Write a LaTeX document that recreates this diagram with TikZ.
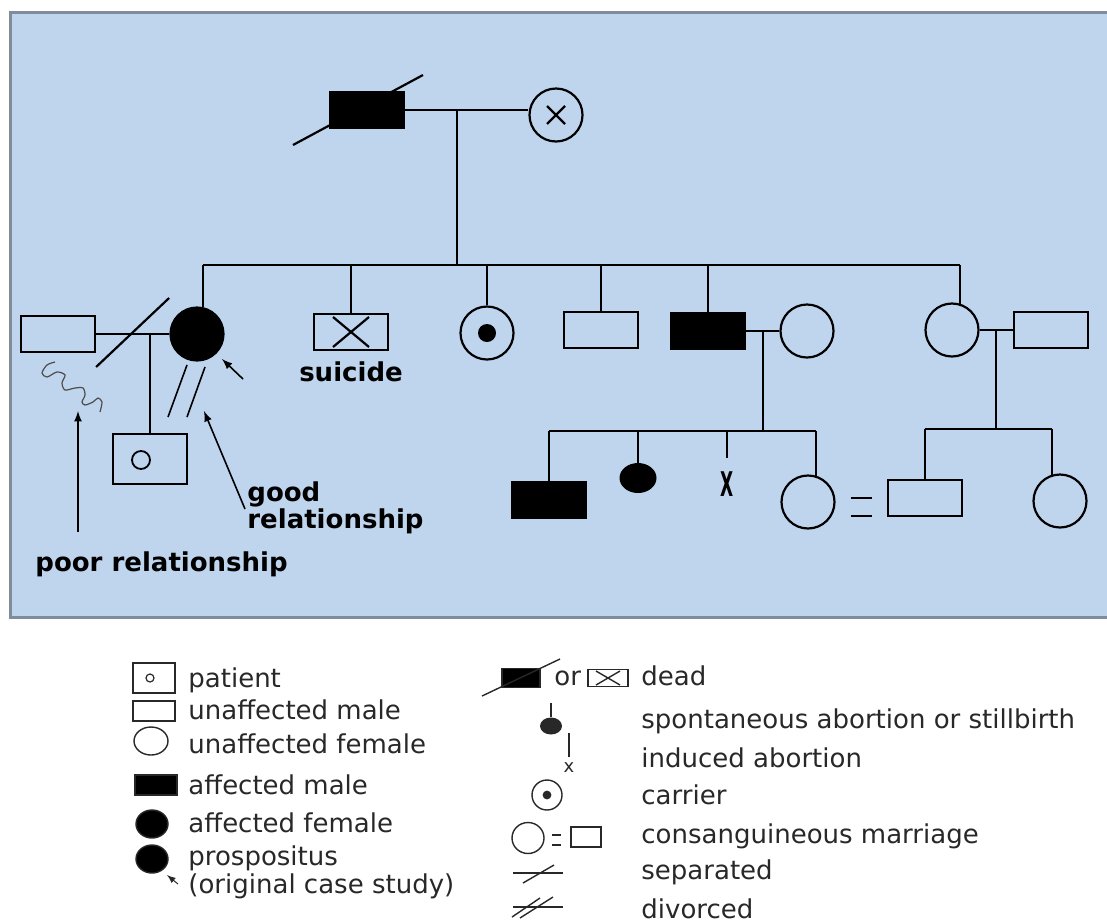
\documentclass[tikz,border=0pt]{standalone}
\usepackage{fontspec}
\setmainfont{DejaVu Sans}
\usetikzlibrary{calc,shapes.geometric}
\definecolor{sfondo}{RGB}{191,213,238}
\definecolor{bordo}{RGB}{128,140,156}
\definecolor{legenda}{RGB}{40,40,40}

\begin{document}
\begin{tikzpicture}[x=0.5pt,y=-0.5pt,
    linea/.style={line width=1.1pt},
    maschio/.style={draw, rectangle, line width=1.1pt, minimum width=37pt, minimum height=18pt, inner sep=0pt},
    femmina/.style={draw, circle, line width=1.1pt, minimum size=26.5pt, inner sep=0pt},
    affetto/.style={fill=black},
    etichetta/.style={font=\fontsize{13}{13.5}\selectfont\bfseries, inner sep=0pt},
    voce/.style={font=\fontsize{13}{14}\selectfont, text=legenda, anchor=base west, inner sep=0pt},
    lmaschio/.style={draw=legenda, rectangle, line width=0.7pt, minimum width=21pt, minimum height=10pt, inner sep=0pt},
    lfemmina/.style={draw=legenda, ellipse, line width=0.7pt, minimum width=17pt, minimum height=14pt, inner sep=0pt},
    lsegno/.style={draw=legenda, line width=0.7pt},
    freccia/.style={->, >=latex, line width=0.8pt}
  ]

    % Sfondo
    \useasboundingbox (0,0) rectangle (1107,922);
    \fill[white] (0,0) rectangle (1107,922);
    \draw[bordo, fill=sfondo, line width=1.5pt] (10,12) rectangle (1120,617);

    % Prima generazione
    \node[maschio, affetto] (nonno) at (367,110) {};
    \node[femmina] (nonna) at (556,115) {};
    \draw[linea] (nonno.east) -- (nonno.east -| nonna.west);
    \draw[linea] ($(nonno)+(-74,35)$) -- ($(nonno)+(56,-35)$);
    \draw[linea] ($(nonna)+(-9,-9)$) -- ($(nonna)+(9,9)$);
    \draw[linea] ($(nonna)+(-9,9)$) -- ($(nonna)+(9,-9)$);
    \coordinate (m1) at (457,110);
    \coordinate (fratelli) at (457,265);
    \draw[linea] (m1) -- (fratelli);

    % Seconda generazione
    \node[femmina, affetto] (zia) at (197,334) {};
    \node[maschio] (ex) at (58,334) {};
    \node[maschio] (suicida) at (351,332) {};
    \node[femmina] (portatrice) at (487,333) {};
    \node[maschio] (zio) at (601,330) {};
    \node[maschio, affetto] (padre) at (708,331) {};
    \node[femmina] (moglie) at (807,331) {};
    \node[femmina] (zia2) at (952,330) {};
    \node[maschio] (marito2) at (1051,330) {};
    \draw[linea] (zia.77 |- fratelli) -- (zia2.73 |- fratelli);
    \foreach \n/\a in {zia/77,suicida/north,portatrice/north,zio/north,padre/north,zia2/73}
      \draw[linea] (\n.\a |- fratelli) -- (\n.\a);
    \draw[linea] ($(suicida)+(-18,-15)$) -- ($(suicida)+(18,15)$);
    \draw[linea] ($(suicida)+(18,-15)$) -- ($(suicida)+(-18,15)$);
    \fill (portatrice) circle (4.5pt);

    % Coppia separata e paziente
    \draw[linea] (ex.east) -- (zia.west);
    \draw[linea] ($(ex.east)+(0,33)$) -- ($(ex.east)+(73,-36)$);
    \node[maschio, minimum height=25pt] (paziente) at (150,459) {};
    \node[draw, circle, line width=0.9pt, minimum size=9pt, inner sep=0pt] at ($(paziente)+(-9,1)$) {};
    \coordinate (m2) at (150,334);
    \draw[linea] (m2) -- (paziente.north);

    % Rapporti
    \draw[line width=0.8pt] ($(zia)+(-10,31)$) -- ($(zia)+(-29,83)$);
    \draw[line width=0.8pt] ($(zia)+(8,33)$) -- ($(zia)+(-10,83)$);
    \draw[black!70, line width=0.6pt] plot[smooth] coordinates {(55,362) (47,365) (42,373) (47,377) (57,372) (65,375) (62,383) (65,390) (75,388) (83,388) (85,395) (82,402) (85,405) (93,402) (98,398) (102,402) (100,412)};
    \node[etichetta, anchor=base west] (poor) at (35,571) {poor relationship};
    \node[etichetta, anchor=north west, align=left] (good) at (247,481) {good\\relationship};
    \node[etichetta, anchor=base] (lsuicide) at (351,381) {suicide};
    \coordinate (c-poor) at (78,532);
    \coordinate (p-poor) at (78,411);
    \draw[freccia] (c-poor) -- (p-poor);
    \coordinate (c-good) at (245,509);
    \coordinate (p-good) at (204,411);
    \draw[freccia] (c-good) -- (p-good);
    \coordinate (c-prob) at (243,379);
    \coordinate (p-prob) at (222,359);
    \draw[freccia] (c-prob) -- (p-prob);

    % Terza generazione (famiglia del padre)
    \draw[linea] (padre.east) -- (moglie.west);
    \coordinate (m3) at ($(padre.east)!0.5!(moglie.west)$);
    \coordinate (fratelli2) at (763,431);
    \draw[linea] (m3) -- (m3 |- fratelli2);
    \node[maschio, affetto] (figlio) at (549,500) {};
    \node[ellipse, affetto, minimum width=18.5pt, minimum height=15pt, inner sep=0pt] (aborto) at (638,478) {};
    \coordinate (indotto) at (727,458);
    \node[font=\fontsize{17}{17}\selectfont\bfseries, inner sep=0pt] (xindotto) at (727,484) {\scalebox{0.5}[1]{X}};
    \node[femmina] (figlia) at (808,502) {};
    \draw[linea] (figlio.north |- fratelli2) -- (figlia.73 |- fratelli2);
    \foreach \n/\a in {figlio/north,aborto/north,figlia/73}
      \draw[linea] (\n.\a |- fratelli2) -- (\n.\a);
    \draw[linea] (indotto |- fratelli2) -- (indotto);

    % Terza generazione (famiglia della zia)
    \draw[linea] (zia2.east) -- (marito2.west);
    \coordinate (m4) at ($(zia2.east)!0.5!(marito2.west)$);
    \coordinate (fratelli3) at (997,429);
    \draw[linea] (m4) -- (m4 |- fratelli3);
    \node[maschio] (cugino) at (925,498) {};
    \node[femmina] (cugina) at (1060,501) {};
    \draw[linea] (cugino.north |- fratelli3) -- (cugina.107 |- fratelli3);
    \foreach \n/\a in {cugino/north,cugina/107}
      \draw[linea] (\n.\a |- fratelli3) -- (\n.\a);

    % Matrimonio tra consanguinei
    \draw[linea] ($(figlia.east)+(15,-4)$) -- ++(21,0);
    \draw[linea] ($(figlia.east)+(15,14)$) -- ++(21,0);

    % Legenda, colonna sinistra
    \node[lmaschio, minimum height=15pt] (l-paziente) at (154,678) {};
    \node[draw=legenda, circle, line width=0.6pt, minimum size=4pt, inner sep=0pt] at ($(l-paziente)+(-4,0)$) {};
    \node[lmaschio] (l-sano) at (154,711) {};
    \node[lfemmina] (l-sana) at (151,741) {};
    \node[lmaschio, affetto] (l-affetto) at (156,785) {};
    \node[lfemmina, affetto, minimum width=16pt] (l-affetta) at (152,824) {};
    \node[lfemmina, affetto, minimum width=16pt] (l-probando) at (152,859) {};
    \coordinate (c-lprob) at (178,884);
    \coordinate (p-lprob) at (167,875);
    \draw[->, >=latex, line width=0.5pt, legenda] (c-lprob) -- (p-lprob);
    \node[voce] at (188,687) {patient};
    \node[voce] at (188,719) {unaffected male};
    \node[voce] at (188,753) {unaffected female};
    \node[voce] at (188,794) {affected male};
    \node[voce] at (188,832) {affected female};
    \node[voce] at (188,865) {prospositus};
    \node[voce] at (188,893) {(original case study)};

    % Legenda, colonna destra
    \node[lmaschio, affetto, minimum width=19pt, minimum height=9.5pt] (l-morto) at (521,678) {};
    \draw[lsegno] ($(l-morto)+(-39,18)$) -- ($(l-morto)+(39,-19)$);
    \node[voce] at (554,685) {or};
    \node[lmaschio, minimum width=20pt, minimum height=8.5pt] (l-suicida) at (608,678) {};
    \draw[lsegno] ($(l-suicida)+(-12,-7)$) -- ($(l-suicida)+(12,7)$);
    \draw[lsegno] ($(l-suicida)+(12,-7)$) -- ($(l-suicida)+(-12,7)$);
    \node[voce] at (641,685) {dead};

    \node[ellipse, fill=legenda, minimum width=11pt, minimum height=8.5pt, inner sep=0pt] (l-aborto) at (551,726) {};
    \draw[lsegno] (l-aborto.north) -- ++(0,-14);
    \node[voce] at (641,728) {spontaneous abortion or stillbirth};

    \coordinate (l-indotto) at (569,757);
    \draw[lsegno] (569,733) -- (l-indotto);
    \node[font=\fontsize{9}{9}\selectfont, text=legenda, inner sep=0pt] at (569,768) {x};
    \node[voce] at (641,767) {induced abortion};

    \node[draw=legenda, circle, line width=0.7pt, minimum size=15pt, inner sep=0pt] (l-portatrice) at (547,795) {};
    \fill[legenda] (l-portatrice) circle (2.2pt);
    \node[voce] at (641,804) {carrier};

    \node[lfemmina, minimum width=16pt, minimum height=15.5pt] (l-cons) at (528,838) {};
    \draw[lsegno] (552,835) -- (561,835);
    \draw[lsegno] (552,845) -- (561,845);
    \node[lmaschio, minimum width=15pt] (l-cugino) at (586,837) {};
    \node[voce] at (641,843) {consanguineous marriage};

    \draw[lsegno] (513,873) -- (563,873);
    \draw[lsegno] (523,883) -- (554,865);
    \node[voce] at (641,879) {separated};

    \draw[lsegno] (513,907) -- (563,907);
    \draw[lsegno] (512,917) -- (540,898);
    \draw[lsegno] (520,918) -- (553,897);
    \node[voce] at (641,918) {divorced};

\end{tikzpicture}
\end{document}
